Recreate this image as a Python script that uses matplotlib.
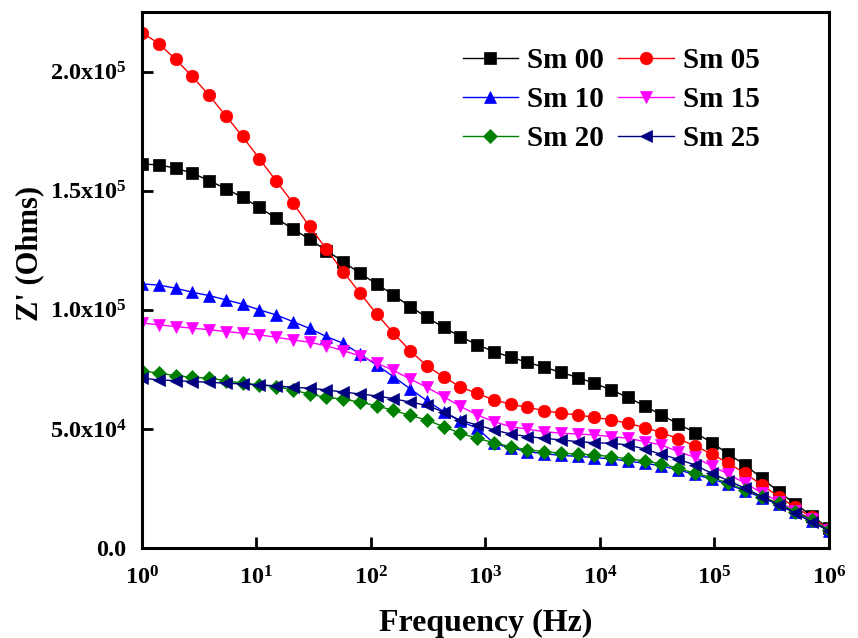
import matplotlib
matplotlib.use("Agg")
import matplotlib.pyplot as plt
from matplotlib.ticker import FixedLocator, FixedFormatter, LogFormatterMathtext, NullLocator

plt.rcParams['font.family'] = ['Liberation Serif', 'DejaVu Serif']
plt.rcParams['font.weight'] = 'bold'
plt.rcParams['mathtext.fontset'] = 'custom'
plt.rcParams['mathtext.rm'] = 'Liberation Serif:bold'
plt.rcParams['mathtext.bf'] = 'Liberation Serif:bold'
plt.rcParams['mathtext.it'] = 'Liberation Serif:bold:italic'
plt.rcParams['mathtext.default'] = 'rm'

freq = [1.0, 1.4007, 1.962, 2.7481, 3.8493, 5.3916, 7.5521,
        10.578, 14.817, 20.754, 29.07, 40.72, 57.03, 79.88,
        111.9, 156.7, 219.5, 307.5, 430.7, 603.3, 845.0,
        1183.6, 1657.9, 2322.3, 3252.9, 4556.4, 6382.1, 8939.4,
        12522, 17539, 24567, 34412, 48202, 67517, 94572,
        132470, 185550, 259900, 364050, 509930, 714270, 1000000]

sm00 = [161.2, 160.9, 159.5, 157.4, 154.3, 150.9, 147.2, 143.0, 138.5, 134.0,
        129.7, 124.9, 120.3, 115.4, 110.9, 106.3, 101.4, 96.9, 92.6, 88.8,
        85.4, 82.5, 80.1, 78.0, 75.9, 73.8, 71.6, 69.2, 66.4, 63.3,
        59.7, 55.9, 52.1, 48.5, 44.3, 39.5, 34.9, 29.3, 23.7, 18.5,
        13.4, 8.3]
sm05 = [216.4, 211.8, 205.2, 198.0, 190.1, 181.5, 172.8, 163.5, 154.2, 145.0,
        135.0, 125.6, 116.1, 107.2, 98.3, 90.3, 82.9, 76.5, 71.9, 67.7,
        64.9, 62.2, 60.4, 59.1, 57.7, 56.6, 55.9, 54.9, 53.8, 52.4,
        50.6, 48.5, 45.9, 42.9, 39.5, 35.6, 31.4, 26.5, 21.6, 17.1,
        12.9, 7.9]
sm10 = [110.9, 110.4, 109.1, 107.4, 106.0, 104.2, 102.4, 100.0, 97.9, 95.1,
        92.2, 88.8, 86.0, 81.5, 76.9, 72.0, 66.9, 61.9, 57.3, 53.2,
        50.4, 44.0, 42.0, 40.5, 39.6, 38.9, 38.5, 38.0, 37.4, 36.5,
        35.6, 34.5, 32.8, 30.9, 29.0, 26.7, 24.0, 21.2, 18.4, 15.0,
        11.5, 7.3]
sm15 = [94.5, 93.7, 93.0, 92.3, 91.7, 90.9, 90.2, 89.5, 88.5, 87.4,
        86.4, 84.9, 82.9, 80.7, 77.7, 74.6, 71.0, 67.5, 63.6, 59.5,
        55.9, 53.1, 51.0, 49.9, 48.9, 48.2, 47.9, 47.5, 46.8, 46.1,
        44.7, 43.3, 40.5, 38.1, 34.5, 31.0, 27.2, 23.2, 19.5, 15.7,
        12.1, 7.6]
sm20 = [74.5, 73.4, 72.4, 71.7, 71.3, 70.3, 69.2, 68.5, 67.8, 66.4,
        64.6, 63.3, 62.5, 61.3, 59.7, 57.8, 55.7, 53.7, 51.0, 48.2,
        46.1, 44.2, 42.6, 41.2, 40.5, 39.8, 39.5, 39.1, 38.4, 37.4,
        36.6, 35.3, 33.5, 31.4, 29.7, 27.2, 24.4, 21.6, 18.8, 15.3,
        11.8, 7.6]
sm25 = [71.3, 70.6, 70.3, 69.9, 69.6, 69.2, 68.9, 68.5, 68.1, 67.5,
        67.1, 66.4, 65.5, 64.7, 63.9, 62.7, 61.3, 59.9, 57.1, 53.6,
        51.7, 49.6, 47.9, 46.8, 46.1, 45.4, 44.7, 44.2, 44.0, 43.3,
        41.6, 39.3, 37.3, 34.9, 31.4, 28.3, 25.1, 21.6, 18.1, 14.6,
        10.8, 7.3]

labels = ['Sm 00', 'Sm 05', 'Sm 10', 'Sm 15', 'Sm 20', 'Sm 25']
colors = ['black', 'red', 'blue', 'magenta', 'green', 'navy']
markers = ['s', 'o', '^', 'v', 'D', '<']
msizes = [8, 9, 9, 9, 7.5, 9]
series = [sm00, sm05, sm10, sm15, sm20, sm25]

yticks = [0, 5e4, 1e5, 1.5e5, 2e5]
yticklabels = ['0.0', r'5.0x10$^{4}$', r'1.0x10$^{5}$', r'1.5x10$^{5}$', r'2.0x10$^{5}$']

fig = plt.figure(figsize=(8.58, 6.38), dpi=100)
ax = fig.add_axes([0.1655, 0.141, 0.8005, 0.840])

handles = []
for ys, lab, c, m, ms in zip(series, labels, colors, markers, msizes):
    h, = ax.plot(freq, [v * 1000 for v in ys], color=c, marker=m, markersize=ms,
                 linewidth=1.0, label=lab, markeredgewidth=0.5, markeredgecolor=c)
    handles.append(h)

ax.set_xscale('log')
ax.set_xlim(1, 1e6)
ax.set_ylim(0, 2.25e5)
ax.xaxis.set_major_locator(FixedLocator([1, 10, 100, 1e3, 1e4, 1e5, 1e6]))
ax.xaxis.set_major_formatter(LogFormatterMathtext())
ax.xaxis.set_minor_locator(NullLocator())
ax.yaxis.set_major_locator(FixedLocator(yticks))
ax.yaxis.set_major_formatter(FixedFormatter(yticklabels))

ax.tick_params(axis='both', which='major', direction='in', length=8, width=2,
               labelsize=17.5, top=False, right=False)
ax.tick_params(axis='x', pad=13)
ax.tick_params(axis='y', pad=11)
for lbl in ax.get_xticklabels() + ax.get_yticklabels():
    lbl.set_fontweight('bold')
for sp in ax.spines.values():
    sp.set_linewidth(2.2)

ax.set_xlabel('Frequency (Hz)', fontsize=23, fontweight='bold', labelpad=14)
ax.set_ylabel("Z' (Ohms)", fontsize=22, fontweight='bold')
ax.yaxis.set_label_coords(-0.142, 0.55)

order = [0, 2, 4, 1, 3, 5]
leg = ax.legend([handles[i] for i in order], [labels[i] for i in order],
                ncol=2, loc='upper left', bbox_to_anchor=(0.467, 0.934), frameon=False,
                borderaxespad=0, borderpad=0,
                handlelength=1.9, columnspacing=0.5, handletextpad=0.3,
                labelspacing=0.4, prop={'weight': 'bold', 'size': 21})

fig.savefig('out.png', dpi=100)
